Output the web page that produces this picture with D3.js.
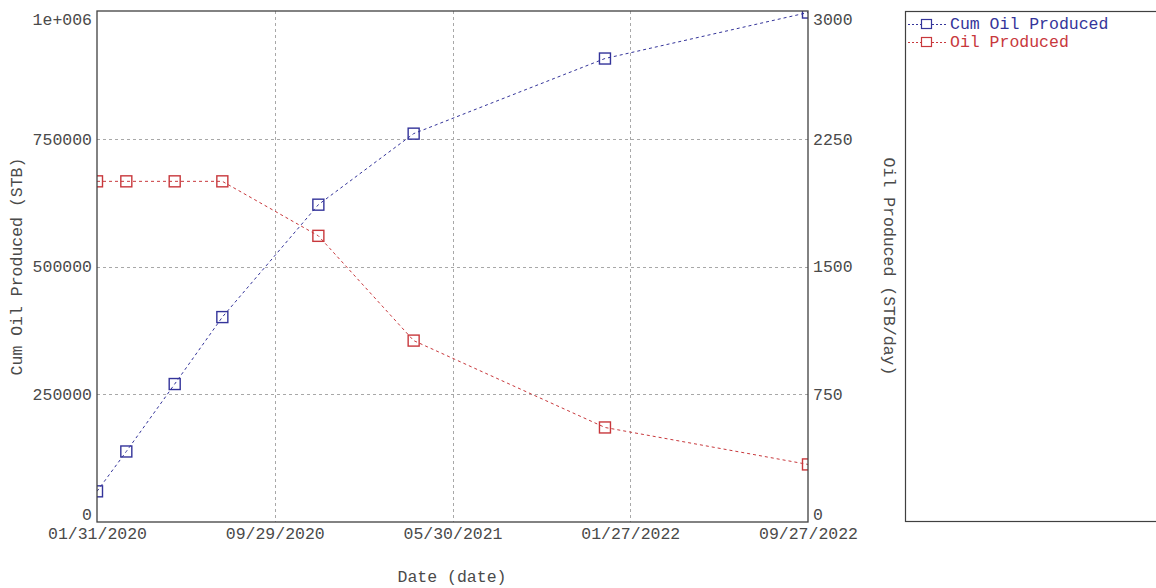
<!DOCTYPE html>
<html>
<head>
<meta charset="utf-8">
<script src="https://cdn.jsdelivr.net/npm/d3@7"></script>
<style>
  html, body { margin: 0; padding: 0; background: #fff; }
  svg { display: block; }
  text { font-family: "Courier New", "Liberation Mono", monospace; fill: #4a4a4a; }
</style>
</head>
<body>
<svg id="chart" width="1156" height="588"></svg>
<script>
// Production history
const dates = ["01/31/2020", "03/11/2020", "05/16/2020", "07/20/2020",
               "11/28/2020", "04/07/2021", "12/24/2021", "09/27/2022"];
const cumOil = [60000, 138000, 270000, 401000, 621000, 760000, 907000, 997000];   // STB
const oilRate = [2000, 2000, 2000, 2000, 1680, 1065, 555, 338];                   // STB/day

const leftTicks = [0, 250000, 500000, 750000, 1000000];
const rightTicks = [0, 750, 1500, 2250, 3000];
const xDomain = ["01/31/2020", "09/27/2022"];

const seriesNames = ["Cum Oil Produced", "Oil Produced"];
const seriesColors = ["#34349a", "#c8383c"];

const W = 1156, H = 588;
const plot = { left: 97, right: 808, top: 11, bottom: 522 };
const fontSize = 16.5;
const textColor = "#4a4a4a";

const parse = d3.utcParse("%m/%d/%Y");
const fmtDate = d3.utcFormat("%m/%d/%Y");
const svg = d3.select("#chart");

const x = d3.scaleUtc().domain(xDomain.map(parse)).range([plot.left, plot.right]);
const yL = d3.scaleLinear().domain([0, 1000000]).range([plot.bottom, plot.top]);
const yR = d3.scaleLinear().domain([0, 3000]).range([plot.bottom, plot.top]);

// five evenly spaced date ticks across the domain
const [t0, t1] = x.domain().map(d => d.getTime());
const xTicks = d3.range(5).map(i => new Date(t0 + i * (t1 - t0) / 4));

const fmtLeft = v => v >= 1000000 ? "1e+006" : String(v);

// clip region for data marks
svg.append("defs").append("clipPath").attr("id", "plotClip")
  .append("rect")
  .attr("x", plot.left).attr("y", plot.top)
  .attr("width", plot.right - plot.left).attr("height", plot.bottom - plot.top);

// grid lines (interior only)
const grid = svg.append("g").attr("class", "grid")
  .attr("stroke", "#a8a8a8").attr("stroke-width", 1).attr("stroke-dasharray", "3,3");
grid.selectAll("line.h").data(leftTicks.slice(1, -1)).join("line")
  .attr("x1", plot.left).attr("x2", plot.right)
  .attr("y1", d => Math.round(yL(d)) + 0.5).attr("y2", d => Math.round(yL(d)) + 0.5);
grid.selectAll("line.v").data(xTicks.slice(1, -1)).join("line")
  .attr("y1", plot.top).attr("y2", plot.bottom)
  .attr("x1", d => Math.round(x(d)) + 0.5).attr("x2", d => Math.round(x(d)) + 0.5);

// axes (labels only; frame drawn separately)
function styleAxis(g) {
  g.select(".domain").remove();
  g.selectAll(".tick line").remove();
  g.selectAll(".tick text")
    .attr("font-size", fontSize)
    .attr("fill", textColor)
    .style("font-family", "'Courier New', 'Liberation Mono', monospace");
}

const gx = svg.append("g").attr("transform", `translate(0,${plot.bottom})`)
  .call(d3.axisBottom(x).tickValues(xTicks).tickFormat(fmtDate).tickSize(0).tickPadding(0))
  .call(styleAxis);
gx.selectAll(".tick text").attr("dy", null).attr("y", 17);

const gl = svg.append("g").attr("transform", `translate(${plot.left},0)`)
  .call(d3.axisLeft(yL).tickValues(leftTicks).tickFormat(fmtLeft).tickSize(0).tickPadding(5))
  .call(styleAxis);

const gr = svg.append("g").attr("transform", `translate(${plot.right},0)`)
  .call(d3.axisRight(yR).tickValues(rightTicks).tickFormat(d3.format("d")).tickSize(0).tickPadding(5))
  .call(styleAxis);

// end labels sit just inside the frame
[gl, gr].forEach(g => {
  const n = g.selectAll(".tick text").size();
  g.selectAll(".tick text").attr("transform", (d, i) =>
    i === 0 ? "translate(0,-8)" : (i === n - 1 ? "translate(0,8)" : null));
});

// axis titles
svg.append("text")
  .attr("transform", `translate(17,${(plot.top + plot.bottom) / 2}) rotate(-90)`)
  .attr("text-anchor", "middle").attr("dominant-baseline", "central")
  .attr("font-size", fontSize).text("Cum Oil Produced (STB)");
svg.append("text")
  .attr("transform", `translate(888,${(plot.top + plot.bottom) / 2}) rotate(90)`)
  .attr("text-anchor", "middle").attr("dominant-baseline", "central")
  .attr("font-size", fontSize).text("Oil Produced (STB/day)");
svg.append("text")
  .attr("x", 452).attr("y", 577)
  .attr("text-anchor", "middle").attr("dominant-baseline", "central")
  .attr("font-size", fontSize).text("Date (date)");

// data series
const series = [
  { name: seriesNames[0], values: cumOil, y: yL, color: seriesColors[0] },
  { name: seriesNames[1], values: oilRate, y: yR, color: seriesColors[1] }
];
const marks = svg.append("g").attr("clip-path", "url(#plotClip)");
series.forEach(s => {
  const pts = dates.map((d, i) => [x(parse(d)), s.y(s.values[i])]);
  marks.append("path")
    .attr("d", d3.line()(pts))
    .attr("fill", "none").attr("stroke", s.color)
    .attr("stroke-width", 1).attr("stroke-dasharray", "3,3");
  marks.selectAll(null).data(pts).join("rect")
    .attr("x", p => p[0] - 5.5).attr("y", p => p[1] - 5.5)
    .attr("width", 11).attr("height", 11)
    .attr("fill", "none").attr("stroke", s.color).attr("stroke-width", 1.4);
});

// plot frame
svg.append("rect")
  .attr("x", plot.left).attr("y", plot.top)
  .attr("width", plot.right - plot.left).attr("height", plot.bottom - plot.top)
  .attr("fill", "none").attr("stroke", "#404040").attr("stroke-width", 1.3);

// legend
const legend = svg.append("g");
legend.append("rect")
  .attr("x", 905.5).attr("y", 11.5).attr("width", 300).attr("height", 510)
  .attr("fill", "none").attr("stroke", "#404040").attr("stroke-width", 1.2);
series.forEach((s, i) => {
  const ly = 24 + i * 18;
  legend.append("line")
    .attr("x1", 908).attr("x2", 948).attr("y1", ly + 0.5).attr("y2", ly + 0.5)
    .attr("stroke", s.color).attr("stroke-width", 1).attr("stroke-dasharray", "2,2");
  legend.append("rect")
    .attr("x", 921.5).attr("y", ly - 4.5).attr("width", 10).attr("height", 9)
    .attr("fill", "#fff").attr("stroke", s.color).attr("stroke-width", 1.2);
  legend.append("text")
    .attr("x", 950).attr("y", ly).attr("dominant-baseline", "central")
    .attr("font-size", fontSize).style("fill", s.color).text(s.name);
});
</script>
</body>
</html>
